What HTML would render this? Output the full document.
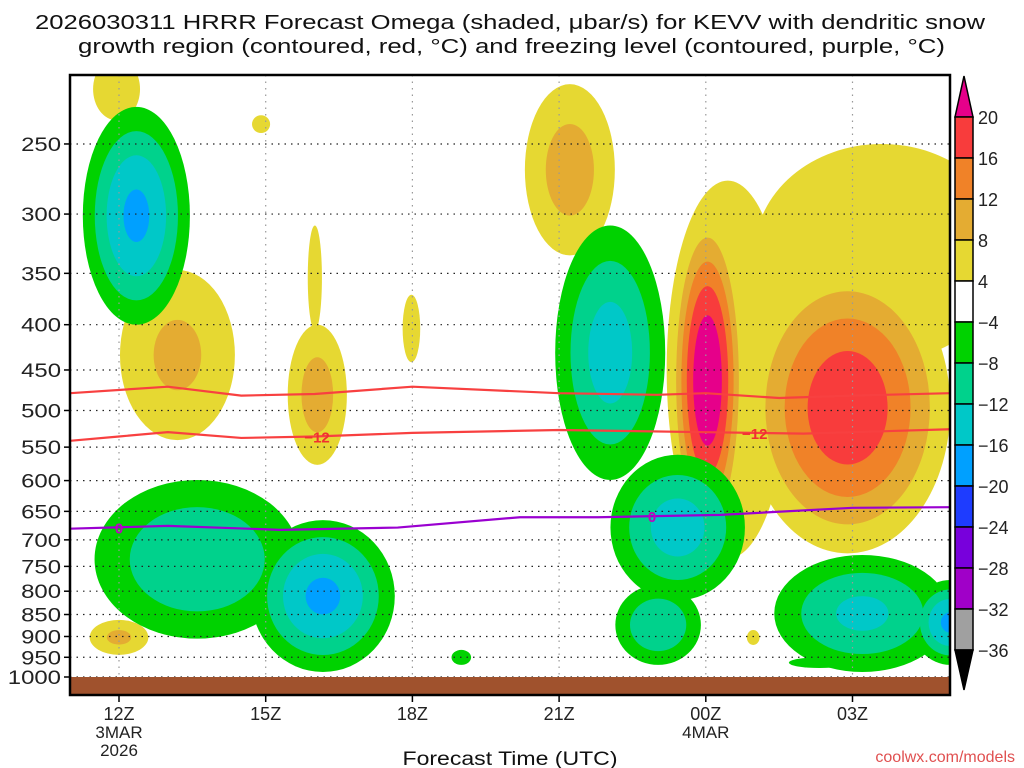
<!DOCTYPE html>
<html><head><meta charset="utf-8"><style>
body{margin:0;background:#fff;}
svg{display:block;font-family:"Liberation Sans",sans-serif;}
</style></head><body>
<svg id="chart" width="1024" height="768" viewBox="0 0 1024 768" xmlns="http://www.w3.org/2000/svg">
<defs><clipPath id="plotclip"><rect x="70" y="75" width="880" height="620"/></clipPath></defs>
<text x="35" y="29" font-size="20" textLength="950" lengthAdjust="spacingAndGlyphs" fill="#111">2026030311 HRRR Forecast Omega (shaded, μbar/s) for KEVV with dendritic snow</text>
<text x="78" y="53" font-size="20" textLength="867" lengthAdjust="spacingAndGlyphs" fill="#111">growth region (contoured, red, °C) and freezing level (contoured, purple, °C)</text>
<g id="fills" clip-path="url(#plotclip)"></g>
<g id="grid"></g>
<g id="lines" clip-path="url(#plotclip)"></g>
<rect x="70" y="677" width="880" height="18" fill="#a0522d"/>
<rect x="70" y="75" width="880" height="620" fill="none" stroke="#000" stroke-width="2.5"/>
<g id="axes"></g>
<g id="cbar"></g>
<text x="510" y="765" font-size="19" textLength="215" lengthAdjust="spacingAndGlyphs" text-anchor="middle" fill="#111">Forecast Time (UTC)</text>
<text x="1015" y="762" font-size="16" text-anchor="end" fill="#e05050">coolwx.com/models</text>
</svg>
<script>
// ---- data ----
const pressureTicks=[250,300,350,400,450,500,550,600,650,700,750,800,850,900,950,1000];
const timeTickHours=[12,15,18,21,24,27];
const timeTickLabels=["12Z","15Z","18Z","21Z","00Z","03Z"];
const levels=[4,8,12,16,20,24,28,32,36];
const posColors=["#e6d832","#e4ac32","#f08228","#f83c3c","#e6008a"];
const negColors=["#00d200","#00d28c","#00c8c8","#00a0ff","#1e3cff","#7800dc","#a000c8","#a0a0a0","#000"];
// omega cells: hour range, pressure range (outer |4| contour), peak value
const cellH1=[11.26,11.5,14.7,20.92,22.05,22.15,25.4,28.2,18.8,25.7, 11.47,12.02,14.72,15.86,15.45,17.8,20.3,23.27,24.8,25.0,11.82,11.4,24.84,23.2];
const cellH2=[13.45,15.7,17.64,23.17,24.8,23.9,29.0,29.8,19.2,26.95, 12.43,14.37,15.09,16.15,16.66,18.16,22.14,24.8,29.0,30.2,12.16,12.6,25.1,25.7];
const cellP1=[227,599,665,309,561,787,728,777,932,950, 200,347,232,309,400,370,214,297,340,250,651,862,885,275];
const cellP2=[400,905,987,599,819,969,987,969,969,977, 235,540,243,406,576,441,334,720,725,440,706,944,920,735];
const cellPeak=[-17,-12,-17,-14,-14,-12,-13,-17,-6,-5, 6,9,5,5,10,5,10,24,19,7,5,9,5,7];
// contour lines
const upperHours=[11,13,14.5,16,18,21,23,24,25.5,27,29];
const upperP=[478,470,481,479,470,478,480,478,484,481,478];
const lowerHours=[11,12,13,14.5,16,18,21,24,26,29];
const lowerP=[541,535,529,537,535,530,526,529,531,525];
const frzHours=[11,13,15.3,17.7,20.2,21.8,24.3,27,29];
const frzP=[680,675,682,678,660,660,656,644,643];
const cbarLabels=["20","16","12","8","4","−4","−8","−12","−16","−20","−24","−28","−32","−36"];
const cbarColors=["#f83c3c","#f08228","#e4ac32","#e6d832","#ffffff","#00d200","#00d28c","#00c8c8","#00a0ff","#1e3cff","#7800dc","#a000c8","#a0a0a0"];
// ---- scales ----
const NS="http://www.w3.org/2000/svg";
function X(h){return 119+(h-12)*48.9;}
function Y(p){return 677-384.5*Math.log(1000/p);}
function mk(tag,attrs,parent){const e=document.createElementNS(NS,tag);for(const k in attrs)e.setAttribute(k,attrs[k]);parent.appendChild(e);return e;}
const fillsG=document.getElementById('fills');
function drawSign(sign,colors){
  for(let li=0;li<colors.length;li++){
    const L=levels[li];
    for(let i=0;i<cellPeak.length;i++){
      const A=cellPeak[i];
      if(Math.sign(A)!==sign)continue;
      const a=Math.abs(A);
      if(a<=L)continue;
      const g=Math.sqrt(Math.log(a/L)/Math.log(a/4));
      const lin=(a-L)/(a-4);
      const s=0.5*g+0.5*Math.sqrt(lin);
      const x1=X(cellH1[i]),x2=X(cellH2[i]),y1=Y(cellP1[i]),y2=Y(cellP2[i]);
      const e=mk('ellipse',{cx:(x1+x2)/2,cy:(y1+y2)/2,rx:(x2-x1)/2*s,ry:(y2-y1)/2*s,fill:colors[li]},fillsG);
      
      
    }
  }
}
drawSign(1,posColors);
drawSign(-1,negColors);
// grid
const gridG=document.getElementById('grid');
const axesG=document.getElementById('axes');
pressureTicks.forEach(p=>{
  const y=Y(p);
  const l=mk('line',{x1:70,x2:950,y1:y,y2:y,stroke:'#222','stroke-width':1.2,'stroke-dasharray':'1.5 5'},gridG);
  
  
  mk('line',{x1:64,x2:70,y1:y,y2:y,stroke:'#000','stroke-width':1.5},axesG);
  const s=String(p);
  const t=mk('text',{x:61,y:y+7,'font-size':19,'text-anchor':'end',fill:'#222',textLength:s.length*13.3,lengthAdjust:'spacingAndGlyphs'},axesG);
  t.textContent=s;
  
  
});
timeTickHours.forEach((h,i)=>{
  const x=X(h);
  const l=mk('line',{x1:x,x2:x,y1:75,y2:695,stroke:'#999','stroke-width':1.2,'stroke-dasharray':'1.5 5'},gridG);
  
  
  mk('line',{x1:x,x2:x,y1:695,y2:702,stroke:'#000','stroke-width':1.5},axesG);
  const t=mk('text',{x:x,y:720,'font-size':18,'text-anchor':'middle',fill:'#222'},axesG);
  t.textContent=timeTickLabels[i];
  
  
});
[[X(12),738,"3MAR"],[X(12),756,"2026"],[X(24),738,"4MAR"]].forEach(d=>{
  const t=mk('text',{x:d[0],y:d[1],'font-size':17,'text-anchor':'middle',fill:'#222'},axesG);
  t.textContent=d[2];
  
  
});
// lines
const linesG=document.getElementById('lines');
function poly(hs,ps,color,name){
  const pts=hs.map((h,i)=>X(h)+','+Y(ps[i])).join(' ');
  const e=mk('polyline',{points:pts,fill:'none',stroke:color,'stroke-width':2.2},linesG);
  
  
}
function interp(hs,ps,h){for(let i=0;i<hs.length-1;i++){if(h>=hs[i]&&h<=hs[i+1]){const f=(h-hs[i])/(hs[i+1]-hs[i]);return ps[i]+f*(ps[i+1]-ps[i]);}}return ps[ps.length-1];}
function label(hs,ps,h,txt,color,name){
  const x=X(h),y=Y(interp(hs,ps,h));
  const t=mk('text',{x:x,y:y+6,'font-size':15,'font-weight':'bold','text-anchor':'middle',fill:color},linesG);
  t.textContent=txt;
  
  
}
poly(upperHours,upperP,'#f84040','dgz-upper-contour');
poly(lowerHours,lowerP,'#f84040','dgz-minus12-contour');
poly(frzHours,frzP,'#9a00d0','freezing-level-contour');
label(lowerHours,lowerP,16.05,'−12','#f03030','dgz-label-1');
label(lowerHours,lowerP,25.0,'−12','#f03030','dgz-label-2');
label(frzHours,frzP,12.0,'0','#c000c0','freezing-label-1');
label(frzHours,frzP,22.9,'0','#c000c0','freezing-label-2');
// colorbar
const cbG=document.getElementById('cbar');
const cbX=955,cbW=18,cbTop=117,cbH=41;
mk('polygon',{points:`${cbX},${cbTop} ${cbX+cbW},${cbTop} ${cbX+cbW/2},76`,fill:'#e6008a',stroke:'#000','stroke-width':1.5},cbG);
cbarColors.forEach((c,i)=>{
  const r=mk('rect',{x:cbX,y:cbTop+i*cbH,width:cbW,height:cbH,fill:c,stroke:'#000','stroke-width':1.5},cbG);
  
  
});
mk('polygon',{points:`${cbX},${cbTop+13*cbH} ${cbX+cbW},${cbTop+13*cbH} ${cbX+cbW/2},690`,fill:'#000',stroke:'#000','stroke-width':1.5},cbG);
cbarLabels.forEach((s,i)=>{
  const t=mk('text',{x:978,y:cbTop+i*cbH+7,'font-size':18,fill:'#222'},cbG);
  t.textContent=s;
  
  
});
</script>
</body></html>
